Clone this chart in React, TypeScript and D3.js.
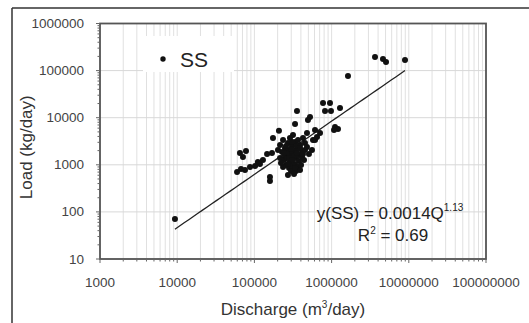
import React from "react";
import * as d3 from "d3";

// Paired observations: discharge (m3/day) and SS load (kg/day)
const discharge: number[] = [
  9350, 3650000, 4630000, 5070000, 8930000, 1630000, 774000, 953000, 822000, 982000,
  1285000, 356000, 525000, 494000, 336000, 1107000, 1210000, 1075000, 208000, 610000,
  174000, 480000, 574000, 316000,
  65000, 77800, 71100, 59600, 67000, 75500, 87700, 102000, 118000, 111000,
  129000, 146000, 169000, 159000, 159000,
  215000, 235000, 249000, 272000, 289000, 307000, 336000, 367000, 390000, 426000,
  452000, 228000, 249000, 272000, 289000, 316000, 346000, 378000, 414000, 452000,
  215000, 242000, 264000, 289000, 316000, 346000, 378000, 414000, 257000, 281000,
  307000, 336000, 367000, 402000, 235000, 298000, 346000, 390000, 272000, 326000,
  202000, 480000, 439000, 221000, 356000, 326000, 264000, 298000, 281000, 390000,
  610000, 647000, 708000, 557000, 509000,
  257000, 307000, 356000, 242000, 307000, 426000, 336000, 272000,
];
const load: number[] = [
  71, 195000, 176000, 152000, 168000, 76700, 20500, 20500, 13900, 13900,
  16100, 13900, 10350, 8930, 7350, 6350, 5750, 5480, 5300, 5480,
  3710, 4730, 3370, 4300,
  1780, 1960, 1470, 703, 815, 776, 897, 944, 1040, 1150,
  1260, 1690, 1780, 551, 453,
  2630, 3360, 2270, 2900, 3710, 2510, 3050, 3360, 2630, 3710,
  2900, 1870, 1540, 2060, 1700, 1870, 2060, 1620, 1960, 2060,
  1390, 1260, 1390, 1150, 1330, 1390, 1200, 1460, 990, 855,
  944, 1040, 898, 990, 898, 738, 738, 776, 607, 638,
  2060, 2390, 1260, 1090, 2510, 1540, 1780, 2170, 1390, 2270,
  3360, 3890, 4730, 2060, 1700,
  2510, 3050, 1780, 1780, 1260, 1700, 855, 1040,
];

const xTicks: number[] = [1000, 10000, 100000, 1000000, 10000000, 100000000];
const yTicks: number[] = [10, 100, 1000, 10000, 100000, 1000000];
const fitA = 0.0014;
const fitB = 1.13;
const seriesName = "SS";

const W = 529;
const H = 323;
const L = 100, R = 486, T = 23.5, B = 259;

export default function App() {
  const x = d3.scaleLog().domain([1000, 1e8]).range([L, R]);
  const y = d3.scaleLog().domain([10, 1e6]).range([B, T]);

  const minor = (lo: number, hi: number) => {
    const out: number[] = [];
    for (let d = lo; d < hi; d *= 10) for (let k = 1; k <= 9; k++) out.push(d * k);
    out.push(hi);
    return out;
  };
  const xMinor = minor(1000, 1e8);
  const yMinor = minor(10, 1e6);

  const pts = discharge.map((q, i) => ({ q, l: load[i] }));
  const qMin = d3.min(discharge) as number;
  const qMax = d3.max(discharge) as number;
  const fitQ = d3.range(0, 51).map((i) => qMin * Math.pow(qMax / qMin, i / 50));
  const line = d3
    .line<number>()
    .x((q) => x(q))
    .y((q) => y(fitA * Math.pow(q, fitB)));

  const font = "'Liberation Sans', Arial, sans-serif";

  return (
    <svg
      width={W}
      height={H}
      style={{ position: "absolute", left: 0, top: 0, background: "#fff" }}
      fontFamily={font}
    >
      <rect x={0} y={0} width={W} height={H} fill="#fff" />
      {/* outer frame */}
      <line x1={12} y1={8} x2={W} y2={8} stroke="#333" strokeWidth={1.5} />
      <line x1={12} y1={8} x2={12} y2={H} stroke="#333" strokeWidth={1.5} />

      {/* gridlines */}
      {xMinor.map((v, i) => (
        <line key={"gx" + i} x1={x(v)} x2={x(v)} y1={T} y2={B} stroke="#e0e0e0" strokeWidth={1} />
      ))}
      {yTicks.map((v, i) => (
        <line key={"gy" + i} x1={L} x2={R} y1={y(v)} y2={y(v)} stroke="#d8d8d8" strokeWidth={1} />
      ))}

      {/* legend box */}
      <rect x={143} y={36} width={91} height={36} fill="#fff" />
      <circle cx={163} cy={59} r={2.7} fill="#111" />
      <text x={180} y={66.5} fontSize={21} fill="#222">{seriesName}</text>

      {/* regression line */}
      <path d={line(fitQ) || ""} fill="none" stroke="#222" strokeWidth={1.3} />

      {/* points */}
      {pts.map((p, i) => (
        <circle key={"p" + i} cx={x(p.q)} cy={y(p.l)} r={3} fill="#111" />
      ))}

      {/* plot frame */}
      <rect x={L} y={T} width={R - L} height={B - T} fill="none" stroke="#555" strokeWidth={1.8} />

      {/* axis ticks */}
      {yMinor.map((v, i) => {
        const major = yTicks.includes(v);
        return (
          <line key={"ty" + i} x1={L - (major ? 4 : 2.5)} x2={L} y1={y(v)} y2={y(v)} stroke="#666" strokeWidth={1} />
        );
      })}
      {xMinor.map((v, i) => {
        const major = xTicks.includes(v);
        return (
          <line key={"tx" + i} x1={x(v)} x2={x(v)} y1={B} y2={B + (major ? 4 : 2.5)} stroke="#666" strokeWidth={1} />
        );
      })}

      {/* tick labels */}
      {yTicks.map((v, i) => (
        <text key={"ly" + i} x={84} y={y(v) + 4.5} fontSize={13.5} textAnchor="end" fill="#444">
          {String(v)}
        </text>
      ))}
      {xTicks.map((v, i) => (
        <text key={"lx" + i} x={x(v)} y={287} fontSize={13.5} textAnchor="middle" fill="#444">
          {String(v)}
        </text>
      ))}

      {/* axis titles */}
      <text
        transform={`translate(32,${(T + B) / 2 + 6}) rotate(-90)`}
        fontSize={17}
        textAnchor="middle"
        fill="#333"
      >
        Load (kg/day)
      </text>
      <text x={293} y={315} fontSize={17} textAnchor="middle" fill="#333">
        Discharge (m<tspan fontSize={10} dy={-7}>3</tspan>
        <tspan dy={7}>/day)</tspan>
      </text>

      {/* equation */}
      <text x={390} y={219} fontSize={17} textAnchor="middle" fill="#222">
        y(SS) = 0.0014Q<tspan fontSize={10} dy={-8}>1.13</tspan>
      </text>
      <text x={393} y={241} fontSize={17} textAnchor="middle" fill="#222">
        R<tspan fontSize={10} dy={-7}>2</tspan>
        <tspan dy={7}> = 0.69</tspan>
      </text>
    </svg>
  );
}
